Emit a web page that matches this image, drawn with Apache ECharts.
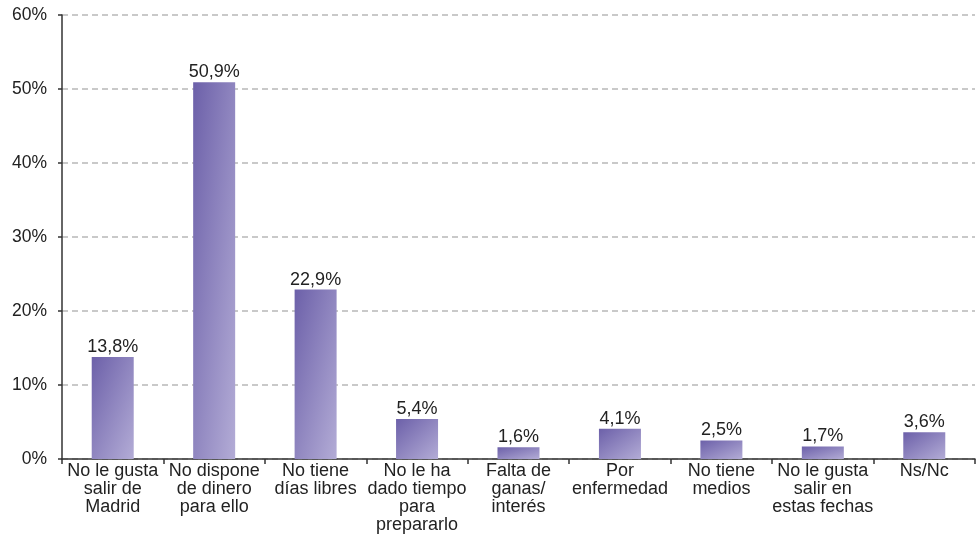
<!DOCTYPE html>
<html><head><meta charset="utf-8">
<script src="https://cdn.jsdelivr.net/npm/echarts@6/dist/echarts.min.js"></script>
<style>html,body{margin:0;padding:0;background:#fff}#c{width:976px;height:537px}</style>
</head><body><div id="c"></div>
<script>
const categories = ["No le gusta\nsalir de\nMadrid","No dispone\nde dinero\npara ello","No tiene\ndías libres","No le ha\ndado tiempo\npara\nprepararlo","Falta de\nganas/\ninterés","Por\nenfermedad","No tiene\nmedios","No le gusta\nsalir en\nestas fechas","Ns/Nc"];
const values = [13.8, 50.9, 22.9, 5.4, 1.6, 4.1, 2.5, 1.7, 3.6];
const yTicks = [0, 10, 20, 30, 40, 50, 60];

const BAR_W = 42;
const chart = echarts.init(document.getElementById('c'), null, {renderer:'canvas'});
const font = '"Liberation Sans", Arial, sans-serif';
function gradFor(h){
  const w = BAR_W;
  const d = h*h + w*w;
  const x2 = 2*h*h/d, y2 = 2*w*w/d;
  return new echarts.graphic.LinearGradient(0,0,x2,y2,[{offset:0,color:'#6c60a9'},{offset:1,color:'#b3acd6'}]);
}
const baseOption = {
  animation:false,
  grid:{left:62, right:1, top:15, bottom:78, containLabel:false},
  xAxis:{type:'category', data:categories,
    axisLine:{lineStyle:{color:'#333', width:1.5}},
    axisTick:{show:true, length:5, lineStyle:{color:'#333', width:1.5}},
    axisLabel:{color:'#222', fontFamily:font, fontSize:18, lineHeight:18, interval:0, margin:3}},
  yAxis:{type:'value', min:yTicks[0], max:yTicks[yTicks.length-1], interval:10,
    axisLine:{show:true, lineStyle:{color:'#333', width:1.5}},
    axisTick:{show:true, length:4, lineStyle:{color:'#333', width:1.5}},
    axisLabel:{color:'#222', fontFamily:font, fontSize:17.5, margin:15, formatter:v=>v+'%'},
    splitLine:{lineStyle:{color:'#b8b8b8', type:[6,4], width:1.5}}},
  series:[{type:'bar', data:values, barWidth:BAR_W,
    itemStyle:{color:'#8f86c0'},
    label:{show:true, position:'top', distance:1, color:'#222', fontFamily:font, fontSize:18,
      formatter:p=>p.value.toFixed(1).replace('.',',')+'%'}}]
};
chart.setOption(baseOption);
const y0 = chart.convertToPixel({yAxisIndex:0}, 0);
const styled = values.map(v => {
  const h = Math.max(1, y0 - chart.convertToPixel({yAxisIndex:0}, v));
  return {value:v, itemStyle:{color:gradFor(h)}};
});
chart.setOption({series:[{data:styled}]});
</script></body></html>
